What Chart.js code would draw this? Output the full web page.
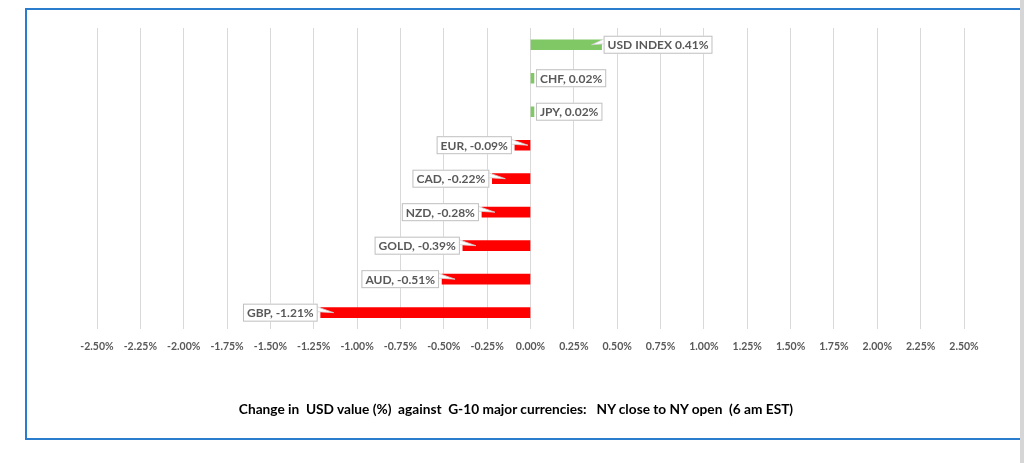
<!DOCTYPE html>
<html>
<head>
<meta charset="utf-8">
<script src="https://cdn.jsdelivr.net/npm/chart.js@4.4.1/dist/chart.umd.min.js"></script>
<style>
  html, body { margin: 0; padding: 0; background: #fff; overflow: hidden; }
  #wrap { position: relative; width: 1024px; height: 463px; }
  #frame { position: absolute; left: 25px; top: 8px; width: 1010px; height: 428px; border: 2px solid #2a7ccc; }
  #strip { position: absolute; left: 1020px; top: 0; width: 4px; height: 463px; background: #d6d6d6; }
  #title { position: absolute; left: 216px; width: 600px; top: 400px; text-align: center;
           font: bold 13.7px Lato, "Open Sans", sans-serif; color: #000; white-space: pre; line-height: 18px; }
  canvas { position: absolute; left: 0; top: 0; }
</style>
</head>
<body>
<div id="wrap">
  <div id="frame"></div>
  <canvas id="chart-usd" width="1024" height="463"></canvas>
  <div id="title"></div>
  <div id="strip"></div>
</div>
<script>
// Currencies, top to bottom as in the chart
const currencies = ['USD INDEX', 'CHF', 'JPY', 'EUR', 'CAD', 'NZD', 'GOLD', 'AUD', 'GBP'];
const changePct = [0.41, 0.02, 0.02, -0.09, -0.22, -0.28, -0.39, -0.51, -1.21];
const pointLabels = ['USD INDEX 0.41%', 'CHF, 0.02%', 'JPY, 0.02%', 'EUR, -0.09%', 'CAD, -0.22%',
  'NZD, -0.28%', 'GOLD, -0.39%', 'AUD, -0.51%', 'GBP, -1.21%'];
const axisMin = -2.5, axisMax = 2.5, axisStep = 0.25;
const chartTitle = 'Change in  USD value (%)  against  G-10 major currencies:   NY close to NY open  (6 am EST)';

const GREEN = '#80c765';
const RED = '#ff0000';

document.getElementById('title').textContent = chartTitle;

// callout-style labels next to the bar ends
const calloutLabels = {
  id: 'calloutLabels',
  afterDatasetsDraw(chart) {
    const ctx = chart.ctx;
    const meta = chart.getDatasetMeta(0);
    ctx.save();
    ctx.font = 'bold 12px Lato, "Open Sans", sans-serif';
    ctx.textBaseline = 'middle';
    meta.data.forEach((bar, i) => {
      const text = pointLabels[i];
      const w = ctx.measureText(text).width + 8;
      const h = 18;
      const pos = changePct[i] >= 0;
      const endX = bar.x;
      const boxX = pos ? endX + 2 : endX - 3 - w;
      const boxY = bar.y - h / 2;
      // pointer wedge, only where the bar is long enough
      if (Math.abs(endX - bar.base) > 12) {
        ctx.beginPath();
        if (pos) {
          ctx.moveTo(boxX + 1, boxY + 3);
          ctx.lineTo(endX - 10, bar.y);
          ctx.lineTo(boxX + 1, boxY + 8);
        } else {
          ctx.moveTo(boxX + w - 1, boxY + 3);
          ctx.lineTo(endX + 13, bar.y);
          ctx.lineTo(boxX + w - 1, boxY + 8);
        }
        ctx.closePath();
        ctx.fillStyle = '#ffffff';
        ctx.fill();
        ctx.strokeStyle = '#d0d0d0';
        ctx.lineWidth = 0.8;
        ctx.stroke();
      }
      // box
      ctx.fillStyle = '#ffffff';
      ctx.fillRect(boxX, boxY, w, h);
      ctx.strokeStyle = '#bfbfbf';
      ctx.lineWidth = 1;
      ctx.strokeRect(boxX + 0.5, boxY + 0.5, w - 1, h - 1);
      ctx.fillStyle = '#595959';
      ctx.textAlign = 'left';
      ctx.fillText(text, boxX + 4, bar.y + 0.5);
    });
    ctx.restore();
  }
};

new Chart(document.getElementById('chart-usd'), {
  type: 'bar',
  data: {
    labels: currencies,
    datasets: [{
      data: changePct,
      backgroundColor: changePct.map(v => v >= 0 ? GREEN : RED),
      barThickness: 10,
      borderWidth: 0
    }]
  },
  options: {
    indexAxis: 'y',
    responsive: false,
    animation: false,
    layout: { padding: { left: 97, right: 60, top: 28, bottom: 99 } },
    plugins: {
      legend: { display: false },
      tooltip: { enabled: false },
      title: { display: false }
    },
    scales: {
      x: {
        min: axisMin,
        max: axisMax,
        grid: { color: '#d9d9d9', drawTicks: false },
        border: { display: false },
        ticks: {
          stepSize: axisStep,
          padding: 11,
          color: '#595959',
          maxRotation: 0,
          autoSkip: false,
          font: { family: 'Lato, "Open Sans", sans-serif', size: 10.5, weight: 'bold' },
          callback: v => (Math.round(v * 100) / 100).toFixed(2) + '%'
        }
      },
      y: {
        display: false
      }
    }
  },
  plugins: [calloutLabels]
});
</script>
</body>
</html>
